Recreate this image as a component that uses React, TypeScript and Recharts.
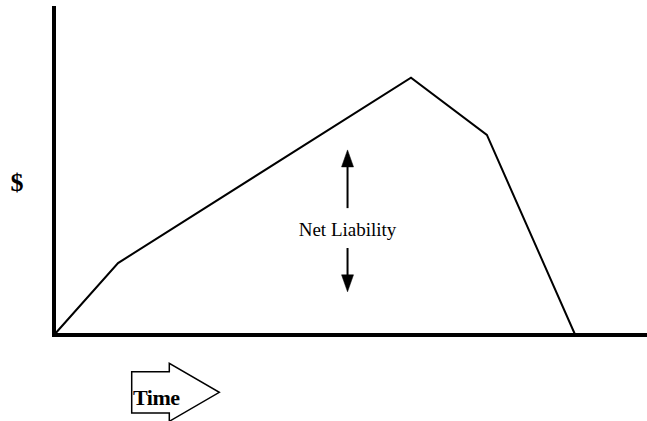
import React from 'react';
import { LineChart, Line, XAxis, YAxis, ReferenceLine, ReferenceDot } from 'recharts';

const times = [0, 10.8, 60.2, 73.0, 87.9];
const liability = [0, 22.0, 78.7, 61.2, 0];
const annotationX = 49.5;
const upArrow = [38.8, 56.6];
const downArrow = [26.6, 13.2];
const annotationTextY = 32.4;
const yLabel = '$';
const xLabel = 'Time';
const annotationLabel = 'Net Liability';

const data = times.map((t, i) => ({ t, v: liability[i] }));

const FONT = '"Liberation Serif", "Times New Roman", serif';

const ArrowHead = (dir: 'up' | 'down') => (props: any) => {
  const { cx, cy } = props;
  const s = dir === 'up' ? 1 : -1;
  const pts = `${cx},${cy} ${cx - 6},${cy + s * 17} ${cx + 6},${cy + s * 17}`;
  return <polygon points={pts} fill="#000" stroke="#000" strokeWidth={0.5} />;
};

const AnnotationText = (props: any) => {
  const { cx, cy } = props;
  return (
    <text x={cx} y={cy} textAnchor="middle" dominantBaseline="central" fontFamily={FONT} fontSize={19} fill="#000">
      {annotationLabel}
    </text>
  );
};

const TimeArrow = () => (
  <g>
    <polygon
      points="131.7,371.7 169.3,371.7 169.3,363.3 219.3,392.3 169.3,421.3 169.3,413 131.7,413"
      fill="#fff"
      stroke="#000"
      strokeWidth={1.5}
    />
    <text x={133} y={405} fontFamily={FONT} fontWeight="bold" fontSize={22} fill="#000" letterSpacing={-0.5}>
      {xLabel}
    </text>
  </g>
);

const DollarLabel = () => (
  <text x={17} y={191} textAnchor="middle" fontFamily={FONT} fontWeight="bold" fontSize={26} fill="#000">
    {yLabel}
  </text>
);

export default function App() {
  return (
    <div style={{ position: 'absolute', left: 0, top: 0, width: 647, height: 421, background: '#fff' }}>
      <LineChart width={647} height={421} data={data} margin={{ top: 8, right: 0, bottom: 0, left: 0 }}>
        <XAxis
          dataKey="t"
          type="number"
          domain={[0, 100]}
          height={86}
          tick={false}
          tickLine={false}
          axisLine={{ stroke: '#000', strokeWidth: 4, strokeLinecap: 'square' }}
          label={{ content: () => <TimeArrow /> }}
        />
        <YAxis
          type="number"
          domain={[0, 100]}
          width={54}
          tick={false}
          tickLine={false}
          axisLine={{ stroke: '#000', strokeWidth: 4, strokeLinecap: 'square' }}
          label={{ content: () => <DollarLabel /> }}
        />
        <Line type="linear" dataKey="v" stroke="#000" strokeWidth={2} dot={false} isAnimationActive={false} />
        <ReferenceLine
          segment={[{ x: annotationX, y: upArrow[0] }, { x: annotationX, y: upArrow[1] - 2 }]}
          stroke="#000"
          strokeWidth={2}
        />
        <ReferenceDot x={annotationX} y={upArrow[1]} r={0} shape={ArrowHead('up')} />
        <ReferenceLine
          segment={[{ x: annotationX, y: downArrow[0] }, { x: annotationX, y: downArrow[1] + 2 }]}
          stroke="#000"
          strokeWidth={2}
        />
        <ReferenceDot x={annotationX} y={downArrow[1]} r={0} shape={ArrowHead('down')} />
        <ReferenceDot x={annotationX} y={annotationTextY} r={0} shape={AnnotationText} />
      </LineChart>
    </div>
  );
}
